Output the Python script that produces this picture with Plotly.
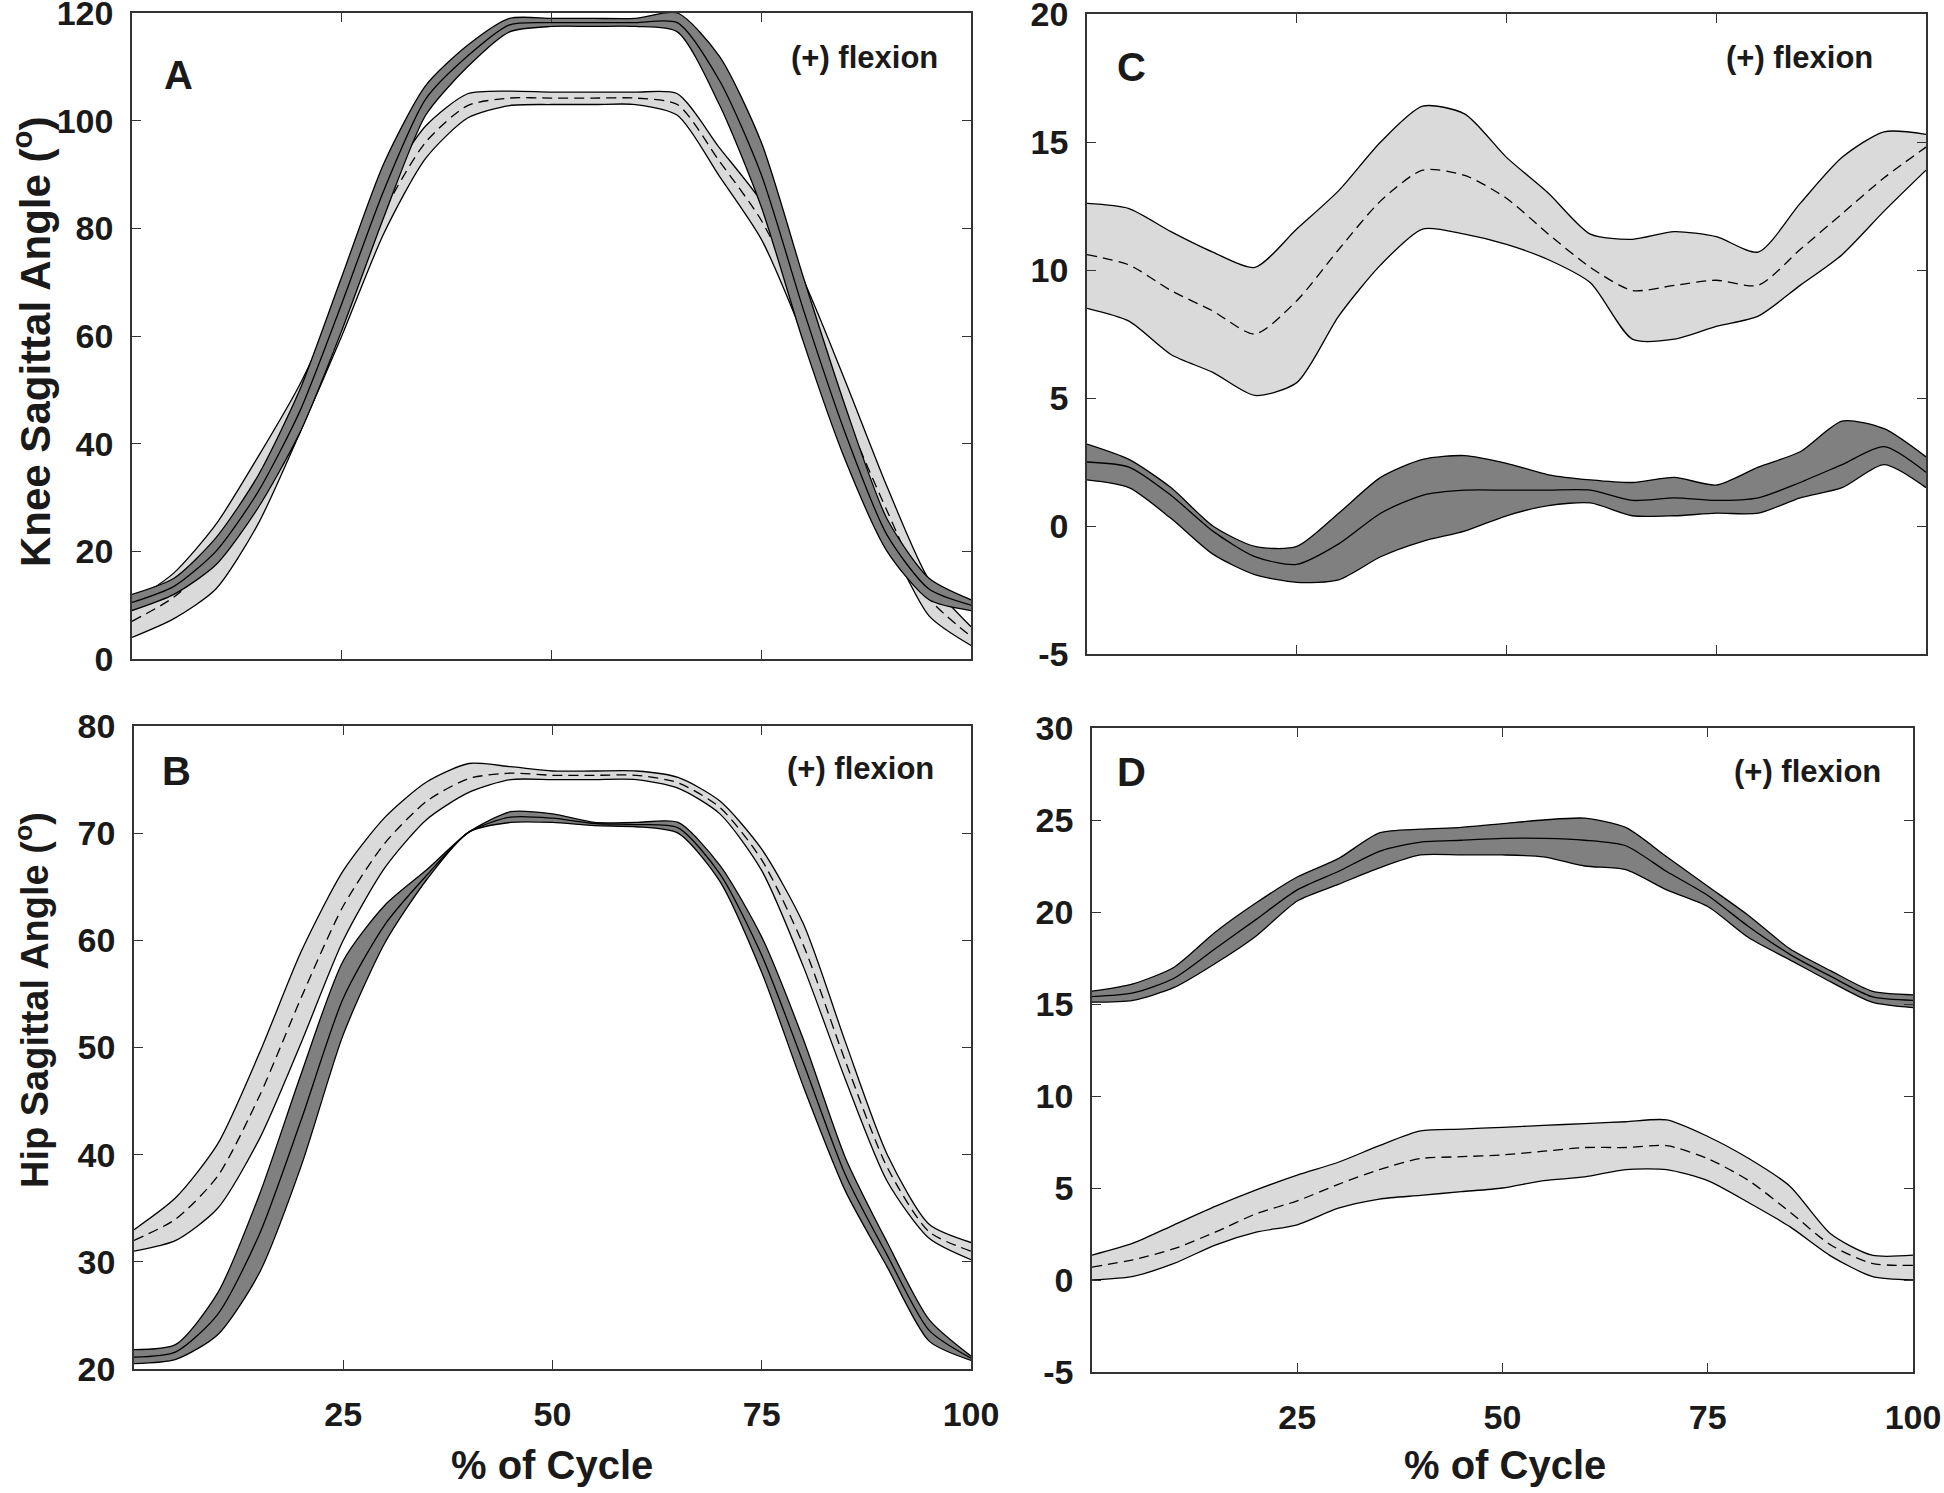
import plotly.graph_objects as go

# ---------------- data (percent of cycle, degrees) ----------------
cycle = [0, 5, 10, 15, 20, 25, 30, 35, 40, 45, 50, 55, 60, 65, 70, 75, 80, 85, 90, 95, 100]

# Panel A - knee sagittal angle
A_dark_upper = [12, 15, 22.5, 34, 50, 71, 92, 106.5, 114, 119, 119, 119, 119, 120, 112, 96, 71, 47, 26, 15, 11]
A_dark_lower = [9, 12, 17.5, 28, 42, 61, 82, 101, 110, 116.5, 117.5, 117.5, 117.5, 116.5, 103, 84, 59, 37, 20, 11, 9]
A_dark_mean = [10.5, 13.5, 20, 31, 46, 66, 87, 104, 112, 117.8, 118.2, 118.2, 118.2, 118.2, 107.5, 90, 65, 42, 23, 13, 10]
A_light_upper = [10.5, 16, 25, 37.5, 51, 68, 87, 99, 105, 105.5, 105.3, 105.3, 105.3, 105, 95, 85, 70.5, 51.7, 32, 14.7, 6]
A_light_lower = [4, 7.5, 13, 25, 42, 60, 79, 93, 100.5, 102.8, 103, 103, 103, 101, 89.7, 78, 60, 39, 22.7, 8, 2.5]
A_light_mean = [7, 11.5, 19, 31, 46.5, 64, 83, 96, 102.8, 104.2, 104.2, 104.2, 104.2, 103, 92.5, 81.5, 65.5, 45.5, 27.5, 11.3, 4.2]

# Panel B - hip sagittal angle
B_dark_upper = [21.8, 22.3, 27.1, 36.3, 47.6, 58.1, 63.3, 66.6, 70.1, 72, 71.8, 71, 71, 71, 67, 60.3, 50.7, 39.7, 31.8, 24.6, 21.2]
B_dark_lower = [20.5, 20.9, 23.2, 29, 39, 51.2, 59.8, 65.7, 70.1, 71, 71, 70.7, 70.6, 70, 65.5, 57, 46.3, 36.6, 29.5, 22.6, 20.8]
B_dark_mean = [21.1, 21.6, 25.1, 32.6, 43.3, 54.6, 61.5, 66.1, 70.1, 71.5, 71.4, 70.9, 70.8, 70.5, 66.2, 58.6, 48.5, 38.1, 30.6, 23.6, 21]
B_light_upper = [33, 36, 41, 49.5, 59, 66.5, 71.5, 74.8, 76.5, 76.2, 75.8, 75.8, 75.8, 75.2, 73, 68.5, 61.5, 50.5, 40, 33.5, 31.8]
B_light_lower = [31, 32, 35, 41.5, 50.5, 60, 66.8, 71.3, 73.8, 75, 75, 75, 75, 74.2, 71.8, 66.5, 57.5, 47, 37.5, 32.2, 30.2]
B_light_mean = [32, 34, 38, 45.5, 54.7, 63.2, 69.1, 73, 75.1, 75.6, 75.4, 75.4, 75.4, 74.7, 72.4, 67.5, 59.5, 48.7, 38.8, 32.8, 31]

# Panel C - knee (second plane)
C_light_upper = [12.6, 12.4, 11.5, 10.7, 10.1, 11.6, 13.1, 15, 16.4, 16.1, 14.4, 13, 11.4, 11.2, 11.5, 11.3, 10.7, 12.6, 14.4, 15.4, 15.3]
C_light_lower = [8.5, 8.0, 6.7, 6.0, 5.1, 5.6, 8.2, 10.2, 11.6, 11.4, 11, 10.4, 9.5, 7.3, 7.3, 7.8, 8.2, 9.4, 10.6, 12.3, 13.9]
C_light_mean = [10.6, 10.2, 9.2, 8.4, 7.5, 8.8, 10.8, 12.7, 13.9, 13.7, 12.8, 11.4, 10.1, 9.2, 9.4, 9.6, 9.4, 10.8, 12.2, 13.6, 14.8]
C_dark_upper = [3.2, 2.6, 1.5, 0, -0.8, -0.8, 0.5, 1.9, 2.6, 2.75, 2.45, 2.0, 1.8, 1.7, 1.9, 1.6, 2.3, 2.9, 4.1, 3.8, 2.7]
C_dark_lower = [1.8, 1.5, 0.3, -1.1, -1.9, -2.2, -2.1, -1.2, -0.6, -0.2, 0.4, 0.8, 0.9, 0.4, 0.4, 0.5, 0.5, 1.1, 1.5, 2.4, 1.5]
C_dark_mean = [2.5, 2.3, 1.2, -0.2, -1.2, -1.5, -0.7, 0.5, 1.2, 1.4, 1.4, 1.4, 1.4, 1.0, 1.1, 1.0, 1.1, 1.7, 2.4, 3.1, 2.1]

# Panel D - hip (second plane)
D_dark_upper = [15.7, 16.1, 17, 18.9, 20.5, 21.9, 22.9, 24.3, 24.5, 24.6, 24.8, 25, 25.1, 24.6, 23, 21.4, 19.8, 18, 16.8, 15.7, 15.5]
D_dark_lower = [15.1, 15.2, 15.9, 17.2, 18.7, 20.6, 21.5, 22.4, 23.1, 23.1, 23.1, 23.0, 22.5, 22.3, 21.2, 20.3, 18.6, 17.4, 16.2, 15.1, 14.8]
D_dark_mean = [15.4, 15.6, 16.4, 18, 19.6, 21.2, 22.2, 23.3, 23.8, 23.9, 24, 24, 23.9, 23.6, 22.2, 20.9, 19.2, 17.7, 16.5, 15.4, 15.2]
D_light_upper = [1.35, 2.0, 3.0, 4.0, 4.9, 5.7, 6.4, 7.3, 8.1, 8.2, 8.3, 8.4, 8.5, 8.6, 8.7, 7.8, 6.6, 5.1, 2.5, 1.35, 1.35]
D_light_lower = [0, 0.2, 0.9, 1.9, 2.6, 3.0, 3.9, 4.4, 4.6, 4.8, 5.0, 5.4, 5.6, 6.0, 6.0, 5.4, 4.2, 2.9, 1.3, 0.2, 0]
D_light_mean = [0.7, 1.1, 1.7, 2.6, 3.6, 4.3, 5.2, 6.0, 6.6, 6.7, 6.8, 7.0, 7.2, 7.2, 7.3, 6.6, 5.4, 3.7, 1.9, 0.9, 0.8]

x_ticks = [25, 50, 75, 100]
A_yticks = [0, 20, 40, 60, 80, 100, 120]
B_yticks = [20, 30, 40, 50, 60, 70, 80]
C_yticks = [-5, 0, 5, 10, 15, 20]
D_yticks = [-5, 0, 5, 10, 15, 20, 25, 30]

panel_letters = ["A", "B", "C", "D"]
direction_note = "(+) flexion"
knee_title = "Knee Sagittal Angle (<sup>o</sup>)"
hip_title = "Hip Sagittal Angle (<sup>o</sup>)"
x_title = "% of Cycle"

# ---------------- styling ----------------
DARK = "rgb(128,128,128)"
LIGHT = "rgb(218,218,218)"
INK = "#1a1a1a"
FONT = "Liberation Sans, Arial, sans-serif"
W, H = 1944, 1493

fig = go.Figure()


def band(xa, ya, upper, lower, mean, fill, dash):
    line = dict(color="black", width=1.3, shape="spline", smoothing=0.7)
    fig.add_trace(go.Scatter(x=cycle, y=lower, mode="lines", line=line,
                             xaxis=xa, yaxis=ya, showlegend=False, hoverinfo="skip"))
    fig.add_trace(go.Scatter(x=cycle, y=upper, mode="lines", line=line, fill="tonexty",
                             fillcolor=fill, xaxis=xa, yaxis=ya, showlegend=False,
                             hoverinfo="skip"))
    fig.add_trace(go.Scatter(x=cycle, y=mean, mode="lines",
                             line=dict(color="black", width=1.3, dash=dash,
                                       shape="spline", smoothing=0.7),
                             xaxis=xa, yaxis=ya, showlegend=False))


# A: x/y, B: x3/y3, C: x2/y2, D: x4/y4
band("x", "y", A_light_upper, A_light_lower, A_light_mean, LIGHT, "10px,6px")
band("x", "y", A_dark_upper, A_dark_lower, A_dark_mean, DARK, "solid")
band("x3", "y3", B_light_upper, B_light_lower, B_light_mean, LIGHT, "10px,6px")
band("x3", "y3", B_dark_upper, B_dark_lower, B_dark_mean, DARK, "solid")
band("x2", "y2", C_light_upper, C_light_lower, C_light_mean, LIGHT, "10px,6px")
band("x2", "y2", C_dark_upper, C_dark_lower, C_dark_mean, DARK, "solid")
band("x4", "y4", D_light_upper, D_light_lower, D_light_mean, LIGHT, "10px,6px")
band("x4", "y4", D_dark_upper, D_dark_lower, D_dark_mean, DARK, "solid")


def fx(px):
    return px / W


def fy(py):
    return 1 - py / H


def px_dom_x(a, b):
    return [fx(a), fx(b)]


def px_dom_y(top, bottom):
    return [fy(bottom), fy(top)]


tickfont = dict(family=FONT, size=34, color=INK, weight="bold")


def xaxis(dom, anchor, labels):
    return dict(domain=dom, anchor=anchor, range=[0, 100], tickvals=x_ticks,
                ticktext=[str(v) for v in x_ticks],
                showticklabels=labels, ticks="inside", ticklen=9, tickwidth=1.3,
                tickcolor="#333", showline=True, mirror="ticks", linecolor="#333",
                linewidth=1.6, showgrid=False, zeroline=False, tickfont=tickfont,
                ticklabelstandoff=14, automargin=False, ticklabeloverflow="allow")


def yaxis(dom, anchor, rng, tv):
    return dict(domain=dom, anchor=anchor, range=rng, tickvals=tv,
                ticktext=[str(v) for v in tv], ticks="inside",
                ticklen=9, tickwidth=1.3, tickcolor="#333", showline=True,
                mirror="ticks", linecolor="#333", linewidth=1.6, showgrid=False,
                zeroline=False, tickfont=tickfont, ticklabelstandoff=10,
                automargin=False, ticklabeloverflow="allow")


fig.update_layout(
    width=W, height=H, margin=dict(l=0, r=0, t=0, b=0, autoexpand=False),
    paper_bgcolor="white", plot_bgcolor="white",
    font=dict(family=FONT, color=INK),
    xaxis=xaxis(px_dom_x(132, 971), "y", False),
    yaxis=yaxis(px_dom_y(13, 659), "x", [0, 120], A_yticks),
    xaxis2=xaxis(px_dom_x(1087, 1926), "y2", False),
    yaxis2=yaxis(px_dom_y(14, 654), "x2", [-5, 20], C_yticks),
    xaxis3=xaxis(px_dom_x(134, 971), "y3", True),
    yaxis3=yaxis(px_dom_y(726, 1369), "x3", [20, 80], B_yticks),
    xaxis4=xaxis(px_dom_x(1092, 1913), "y4", True),
    yaxis4=yaxis(px_dom_y(728, 1372), "x4", [-5, 30], D_yticks),
)


def note(text, px, py, size, angle=0):
    fig.add_annotation(text=text, x=fx(px), y=fy(py), xref="paper", yref="paper",
                       showarrow=False, textangle=angle, xanchor="center",
                       yanchor="middle",
                       font=dict(family=FONT, size=size, color=INK, weight="bold"))


# panel letters
note(panel_letters[0], 178, 75, 40)
note(panel_letters[1], 176, 771, 40)
note(panel_letters[2], 1131, 67, 40)
note(panel_letters[3], 1131, 772, 40)
# direction notes
note(direction_note, 864, 57, 31)
note(direction_note, 860, 769, 31)
note(direction_note, 1799, 57, 31)
note(direction_note, 1807, 771, 31)
# axis titles
note(knee_title, 32, 342, 42, -90)
note(hip_title, 32, 1000, 38, -90)
note(x_title, 552, 1465, 40)
note(x_title, 1505, 1465, 40)

# remove the browser's default page margin so the figure fills the window exactly
fig.write_html("out.html", config={"displayModeBar": False},
               post_script="document.body.style.margin='0';")
